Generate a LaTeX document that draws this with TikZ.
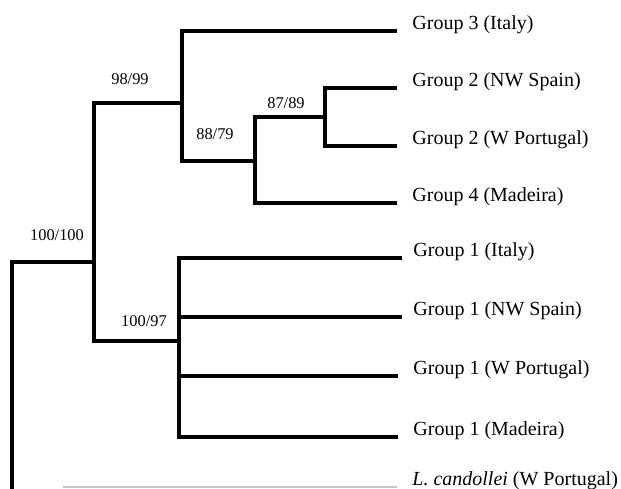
\documentclass[tikz,border=0pt]{standalone}
\usepackage{fontspec}
\setmainfont{Liberation Serif}
\usepackage{tikz}

\begin{document}
\begin{tikzpicture}[x=0.5pt,y=-0.5pt,
                    branch/.style={line width=1.7pt,black},
                    leaf/.style={anchor=base west,inner sep=0pt,xshift=7.5pt,yshift=1pt,
                                 font=\fontsize{10}{12}\selectfont},
                    supp/.style={inner sep=0pt,font=\fontsize{8.2}{9.6}\selectfont}]
                              \useasboundingbox (0,0) rectangle (621,488);

                              % Internal nodes (at the vertical line, height of parent branch)
                              \coordinate (root) at (12,495);
                              \coordinate (A) at (94,262);
                              \coordinate (B) at (182,103);
                              \coordinate (D) at (255,161);
                              \coordinate (E) at (325,117);
                              \coordinate (C) at (179,341);

                              % Tips
                              \coordinate (t3) at (397,31);
                              \coordinate (t2n) at (397,88);
                              \coordinate (t2w) at (397,146);
                              \coordinate (t4) at (397,203);
                              \coordinate (t1i) at (402,258);
                              \coordinate (t1n) at (402,317);
                              \coordinate (t1w) at (398,376);
                              \coordinate (t1m) at (398,437);
                              \coordinate (tlc0) at (63,487);
                              \coordinate (tlc) at (397,487);

                              % Branches
                              \draw[branch] (root) |- (A);
                              \draw[branch] (A) |- (B);
                              \draw[branch] (A) |- (C);
                              \draw[branch] (B) |- (t3);
                              \draw[branch] (B) |- (D);
                              \draw[branch] (D) |- (E);
                              \draw[branch] (D) |- (t4);
                              \draw[branch] (E) |- (t2n);
                              \draw[branch] (E) |- (t2w);
                              \draw[branch] (C) |- (t1i);
                              \draw[branch] (C) |- (t1n);
                              \draw[branch] (C) |- (t1w);
                              \draw[branch] (C) |- (t1m);
                              \draw[gray!45,line width=0.6pt] (tlc0) -- (tlc);

                              % Tip labels
                              \node[leaf] (g3) at (t3) {Group 3 (Italy)};
                              \node[leaf] (g2n) at (t2n) {Group 2 (NW Spain)};
                              \node[leaf] (g2w) at (t2w) {Group 2 (W Portugal)};
                              \node[leaf] (g4) at (t4) {Group 4 (Madeira)};
                              \node[leaf,xshift=-2pt] (g1i) at (t1i) {Group 1 (Italy)};
                              \node[leaf,xshift=-2pt] (g1n) at (t1n) {Group 1 (NW Spain)};
                              \node[leaf] (g1w) at (t1w) {Group 1 (W Portugal)};
                              \node[leaf] (g1m) at (t1m) {Group 1 (Madeira)};
                              \node[leaf] (lc) at (tlc) {\textit{L. candollei} (W Portugal)};

                              % Bootstrap support
                              \node[supp] (sA) at (57,235) {100/100};
                              \node[supp] (sB) at (130,79) {98/99};
                              \node[supp] (sD) at (215,134) {88/79};
                              \node[supp] (sE) at (286,103) {87/89};
                              \node[supp] (sC) at (144,321) {100/97};
                        \end{tikzpicture}
\end{document}
